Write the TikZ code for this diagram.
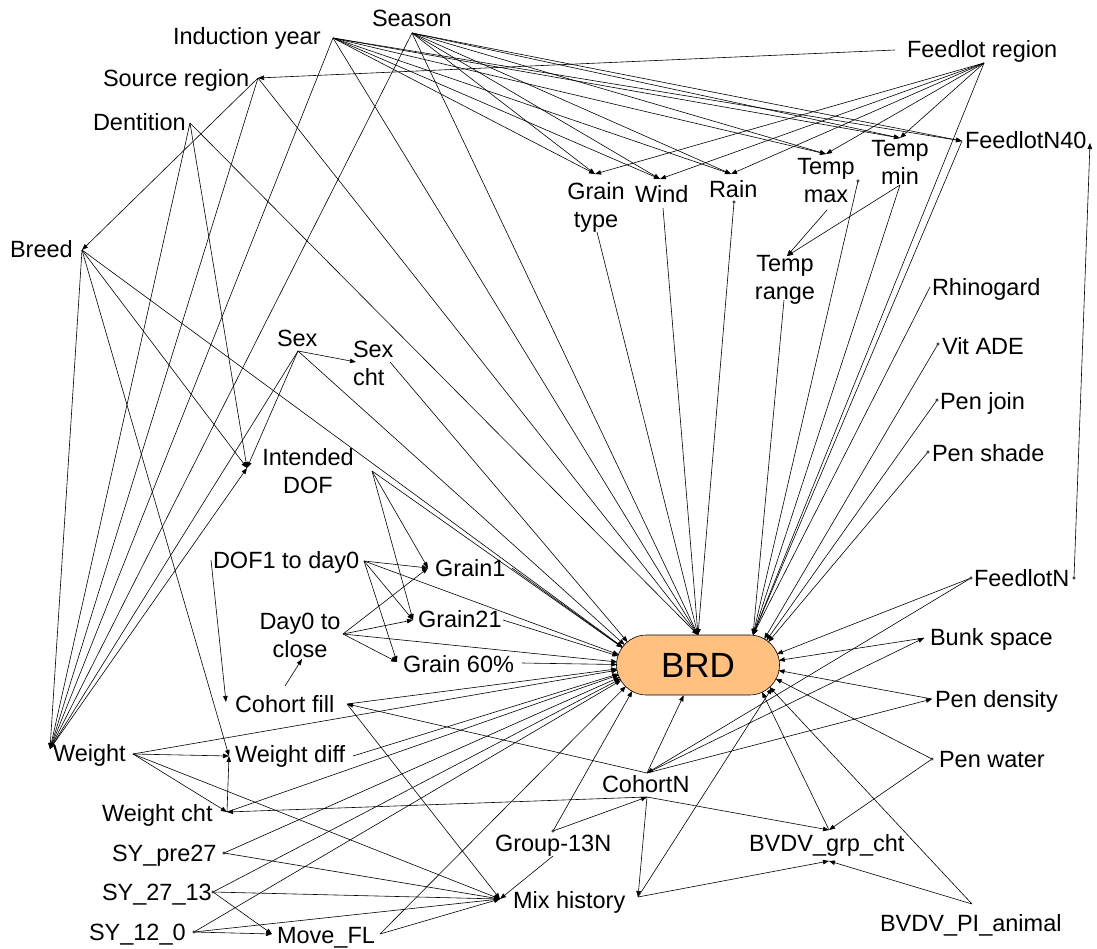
\documentclass[tikz,border=0pt]{standalone}
\usepackage{fontspec}
\setmainfont{Liberation Sans}
\usetikzlibrary{arrows.meta,shapes.misc}
\definecolor{brdfill}{RGB}{255,192,128}
\begin{document}
\begin{tikzpicture}[x=1pt,y=-1pt,
  lbl/.style={font=\fontsize{23.5}{28}\selectfont, inner sep=0pt, outer sep=0pt},
  ar/.style={-{Triangle[length=6pt,width=4.5pt]}, line width=0.6pt},
  hub/.style={circle, inner sep=0pt, outer sep=0pt, minimum size=60pt},
  portdot/.style={line width=0.5pt, fill=white}]
\useasboundingbox (0,0) rectangle (1097,949);

% ---------- labels ----------
\node[lbl,anchor=base west] (nIY) at (173,45) {Induction year};
\node[lbl,anchor=base west] (nSE) at (372,27) {Season};
\node[lbl,anchor=base west] (nSR) at (103,87) {Source region};
\node[lbl,anchor=base west] (nDE) at (93,131) {Dentition};
\node[lbl,anchor=base west] (nBR) at (10,258) {Breed};
\node[lbl,anchor=base west] (nFR) at (907,58) {Feedlot region};
\node[lbl,anchor=base west] (nF40) at (965,149) {FeedlotN40};
\node[lbl,align=center,anchor=north] (nGT) at (596,182) {Grain\\type};
\node[lbl,anchor=base west] (nWI) at (635,203) {Wind};
\node[lbl,anchor=base west] (nRA) at (709,198) {Rain};
\node[lbl,align=center,anchor=north] (nTX) at (826,158) {Temp\\max};
\node[lbl,align=center,anchor=north] (nTN) at (900,140) {Temp\\min};
\node[lbl,align=center,anchor=north] (nTR) at (785,255) {Temp\\range};
\node[lbl,anchor=base west] (nRH) at (932,296) {Rhinogard};
\node[lbl,anchor=base west] (nVA) at (942,354) {Vit ADE};
\node[lbl,anchor=base west] (nPJ) at (940,409) {Pen join};
\node[lbl,anchor=base west] (nPS) at (932,461) {Pen shade};
\node[lbl,anchor=base west] (nFN) at (974,586) {FeedlotN};
\node[lbl,anchor=base west] (nBS) at (930,645) {Bunk space};
\node[lbl,anchor=base west] (nPD) at (935,707) {Pen density};
\node[lbl,anchor=base west] (nPW) at (939,767) {Pen water};
\node[lbl,anchor=base west] (nBG) at (749,851) {BVDV\_grp\_cht};
\node[lbl,anchor=base west] (nBP) at (880,931) {BVDV\_PI\_animal};
\node[lbl,anchor=base west] (nCN) at (602,792) {CohortN};
\node[lbl,anchor=base west] (nGN) at (495,851) {Group-13N};
\node[lbl,anchor=base west] (nMH) at (513,908) {Mix history};
\node[lbl,anchor=base west] (nMF) at (277,943) {Move\_FL};
\node[lbl,anchor=base west] (nS12) at (89,940) {SY\_12\_0};
\node[lbl,anchor=base west] (nS27) at (102,900) {SY\_27\_13};
\node[lbl,anchor=base west] (nSP) at (112,861) {SY\_pre27};
\node[lbl,anchor=base west] (nWC) at (102,821) {Weight cht};
\node[lbl,anchor=base west] (nWT) at (53,761) {Weight};
\node[lbl,anchor=base west] (nWD) at (235,762) {Weight diff};
\node[lbl,anchor=base west] (nCF) at (235,712) {Cohort fill};
\node[lbl,align=center,anchor=north] (nD0) at (300,613) {Day0 to\\close};
\node[lbl,anchor=base west] (nD1) at (213,568) {DOF1 to day0};
\node[lbl,align=center,anchor=north] (nID) at (308,448) {Intended\\DOF};
\node[lbl,anchor=base west] (nG1) at (435,576) {Grain1};
\node[lbl,anchor=base west] (nG21) at (418,627) {Grain21};
\node[lbl,anchor=base west] (nG60) at (403,672) {Grain 60\%};
\node[lbl,anchor=base west] (nSX) at (277,347) {Sex};
\node[lbl,align=left,anchor=north west] (nSC) at (353,341) {Sex\\cht};

% ---------- outcome ----------
\node[draw, fill=brdfill, rounded rectangle, minimum width=163pt, minimum height=60pt,
      inner sep=0pt, line width=0.6pt, font=\fontsize{35}{40}\selectfont] (BRD) at (698,665) {BRD};
\node[hub] (hL) at (647,665) {};
\node[hub] (hR) at (749,665) {};
\coordinate (brdN) at (698,635);
\coordinate (brdNE) at (753,635);
\coordinate (brdSE) at (772,688);

% ---------- ports ----------
\coordinate (iy) at (333,38);   \coordinate (se) at (412,33);
\coordinate (frP) at (984,63);  \coordinate (frW) at (895,50);
\coordinate (src) at (258,78);  \coordinate (den) at (190,123);
\coordinate (br) at (82,250);
\coordinate (fn40W) at (962,141); \coordinate (fn40E) at (1090,143);
\coordinate (gtN) at (595,174); \coordinate (gtS) at (597,232);
\coordinate (windN) at (660,179); \coordinate (windS) at (663,208);
\coordinate (rainN) at (731,174); \coordinate (rainS) at (734,202);
\coordinate (tmaxN) at (826,154); \coordinate (tmaxS) at (827,210); \coordinate (tmaxR) at (858,181);
\coordinate (tminN) at (900,138); \coordinate (tminS) at (900,185);
\coordinate (trN) at (787,256); \coordinate (trS) at (784,300);
\coordinate (rh) at (930,287); \coordinate (va) at (938,344);
\coordinate (pj) at (937,400); \coordinate (ps) at (928,452);
\coordinate (fnL) at (971,578); \coordinate (fnR) at (1074,578);
\coordinate (bs) at (924,638); \coordinate (pd) at (932,699); \coordinate (pw) at (932,759);
\coordinate (bgN) at (829,830); \coordinate (bgS) at (829,861); \coordinate (bp) at (972,904);
\coordinate (cnN) at (647,773); \coordinate (cnS) at (647,797);
\coordinate (gnN) at (553,831); \coordinate (gnS) at (553,856);
\coordinate (mhL) at (500,899); \coordinate (mhR) at (638,897);
\coordinate (mvL) at (272,934); \coordinate (mvR) at (380,934);
\coordinate (s12) at (194,932); \coordinate (s27) at (213,892); \coordinate (sp) at (224,853);
\coordinate (wcR) at (227,812);
\coordinate (wtL) at (50,749); \coordinate (wtR) at (133,754);
\coordinate (wdL) at (229,756); \coordinate (wdR) at (353,756);
\coordinate (cfL) at (226,702); \coordinate (cfR) at (347,704); \coordinate (cfN) at (285,686);
\coordinate (d0R) at (343,634); \coordinate (d0S) at (302,659);
\coordinate (d1R) at (364,561); \coordinate (d1L) at (211,560);
\coordinate (idL) at (247,468); \coordinate (idR) at (372,471);
\coordinate (g1L) at (428,568); \coordinate (g1R) at (512,568);
\coordinate (g21L) at (413,620); \coordinate (g21R) at (503,620);
\coordinate (g60L) at (397,662); \coordinate (g60R) at (522,663);
\coordinate (sx) at (298,351); \coordinate (scL) at (356,362); \coordinate (scR) at (390,362);

% ---------- connectors ----------
\foreach \a/\b in {
  iy/gtN, iy/windN, iy/rainN, iy/tmaxN, iy/tminN, iy/fn40W, iy/brdN, iy/wtL,
  se/gtN, se/windN, se/rainN, se/tmaxN, se/tminN, se/fn40W, se/brdN, se/wtL,
  frP/gtN, frP/windN, frP/rainN, frP/tmaxN, frP/tminN, frP/brdNE, frW/src,
  src/br, src/wtL, src/brdN,
  den/wtL, den/idL, den/brdN,
  br/wtL, br/idL, br/wdL, br/hL,
  sx/scL, sx/idL, sx/wtL, sx/hL, scR/hL,
  idR/g1L, idR/g21L, idR/hL, wtL/idL,
  d1R/g1L, d1R/g21L, d1R/g60L, d1R/hL, d1L/cfL,
  d0R/g1L, d0R/g21L, d0R/g60L, d0R/hL,
  cfN/d0S, cfR/mhL, cfR/hL,
  g1R/hL, g21R/hL, g60R/hL,
  wtR/wdL, wtR/wcR, wtR/mhL, wtR/hL,
  wcR/wdL, wcR/hL, wdR/hL,
  sp/hL, sp/mhL, s27/hL, s27/mhL, s27/mvL, s12/hL, s12/mhL, s12/mvL,
  mvR/hL, mvR/mhL,
  gnN/hL, gnN/cnS, gnS/mhL,
  cnN/BRD, cnN/cfR, cnN/bs, cnN/pd,
  cnS/mhR, cnS/bgN, cnS/wcR,
  mhR/brdSE, mhR/bgS,
  fnL/hR, fnL/cnN, fnR/fn40E, fn40W/brdNE,
  bs/hR, pd/hR, pw/hR, bp/hR, bgN/hR, pw/bgN, bp/bgS,
  tmaxS/trN, tminS/trN, tmaxR/brdNE, tminS/brdNE, trS/brdNE, rh/brdNE,
  va/hR, pj/hR, ps/hR,
  gtS/brdN, windS/brdN, rainS/brdN}
  \draw[ar] (\a) -- (\b);

% ---------- small port circles ----------
\foreach \p in {rainS, tmaxR, va, pj, ps, fnL, fnR, pw, sp, s27, s12, gnN}
  \draw[portdot] (\p) circle (1.3pt);
\end{tikzpicture}
\end{document}
